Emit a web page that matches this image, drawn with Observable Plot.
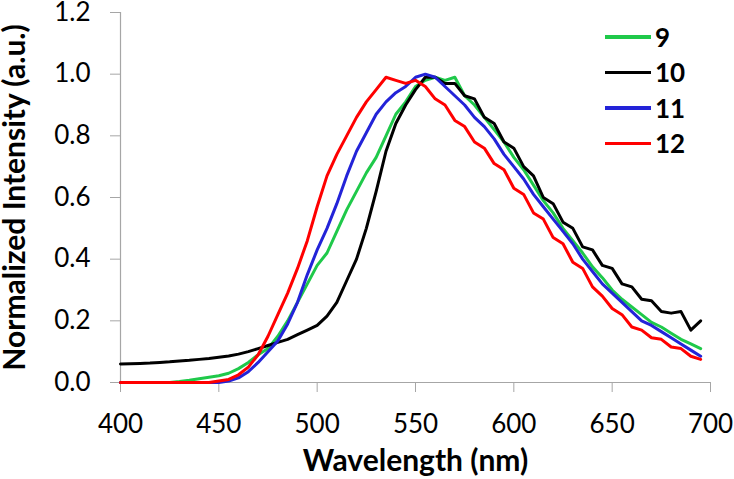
<!DOCTYPE html>
<html>
<head>
<meta charset="utf-8">
<script src="https://cdn.jsdelivr.net/npm/d3@7"></script>
<script src="https://cdn.jsdelivr.net/npm/@observablehq/plot@0.6"></script>
<style>
  html, body { margin: 0; padding: 0; background: #fff; }
  #wrap { position: relative; width: 734px; height: 479px; font-family: Lato, "Open Sans", sans-serif; }
  #wrap svg { font-family: Lato, "Open Sans", sans-serif; overflow: visible; }
  #wrap svg g[aria-label="y-axis label"] text,
  #wrap svg g[aria-label="x-axis label"] text { font-weight: 700; font-size: 30px; }
  #legend { position: absolute; left: 605px; top: 19px; font-weight: 700; font-size: 26px; color: #000; }
  #legend .row { display: flex; align-items: center; height: 35.5px; }
  #legend .sw { width: 46px; height: 3.5px; margin-right: 4px; }
</style>
</head>
<body>
<div id="wrap"><div id="legend"></div></div>
<script>
// Wavelength grid (nm)
const wavelengths = d3.range(400, 700, 5);

// Series names and colors
const seriesNames = ["9", "10", "11", "12"];
const seriesColors = ["#1fc94a", "#000000", "#2323d8", "#ff0000"];

// Normalized intensities, one value per wavelength
const s9 = [0,0,0,0,0,0,0.003,0.007,0.012,0.017,0.022,0.03,0.045,0.065,0.09,0.11,0.15,0.20,0.26,0.32,
  0.38,0.42,0.49,0.56,0.62,0.68,0.73,0.80,0.87,0.91,0.96,0.98,0.99,0.98,0.99,0.93,0.90,0.86,0.82,0.78,
  0.73,0.69,0.64,0.59,0.55,0.50,0.46,0.42,0.375,0.34,0.30,0.27,0.245,0.22,0.195,0.18,0.16,0.14,0.125,0.11];
const s10 = [0.06,0.061,0.062,0.063,0.065,0.067,0.07,0.072,0.075,0.078,0.082,0.086,0.092,0.10,0.11,0.12,0.13,0.14,0.155,0.17,
  0.185,0.215,0.26,0.33,0.40,0.50,0.62,0.75,0.84,0.90,0.95,0.99,0.99,0.97,0.97,0.93,0.92,0.86,0.84,0.78,
  0.76,0.70,0.67,0.60,0.58,0.52,0.50,0.44,0.43,0.38,0.37,0.32,0.31,0.27,0.265,0.23,0.225,0.23,0.17,0.20];
const s11 = [0,0,0,0,0,0,0,0,0,0,0,0.005,0.015,0.035,0.065,0.10,0.135,0.19,0.26,0.35,
  0.43,0.50,0.58,0.67,0.75,0.81,0.87,0.91,0.94,0.96,0.99,1.0,0.99,0.96,0.93,0.90,0.86,0.83,0.79,0.74,
  0.70,0.66,0.61,0.57,0.53,0.49,0.45,0.40,0.36,0.32,0.29,0.26,0.23,0.20,0.185,0.165,0.145,0.125,0.105,0.085];
const s12 = [0,0,0,0,0,0,0,0,0,0,0.005,0.01,0.025,0.05,0.09,0.15,0.22,0.29,0.37,0.46,
  0.57,0.67,0.74,0.80,0.86,0.91,0.95,0.99,0.98,0.97,0.98,0.96,0.92,0.90,0.85,0.83,0.78,0.76,0.71,0.69,
  0.63,0.61,0.55,0.53,0.47,0.45,0.39,0.37,0.31,0.28,0.24,0.22,0.18,0.17,0.145,0.14,0.115,0.11,0.085,0.075];

// Axis ticks
const xTicks = [400, 450, 500, 550, 600, 650, 700];
const yTicks = [0, 0.2, 0.4, 0.6, 0.8, 1.0, 1.2];

const seriesValues = [s9, s10, s11, s12];
const rows = [];
seriesNames.forEach((name, i) => {
  seriesValues[i].forEach((v, j) => rows.push({series: name, wl: wavelengths[j], val: v}));
});

const axisColor = "#a6a6a6";

const chart = Plot.plot({
  width: 734,
  height: 479,
  marginLeft: 120,
  marginRight: 24,
  marginTop: 12,
  marginBottom: 97,
  style: {fontSize: "26px", fontFamily: "Lato, 'Open Sans', sans-serif", color: "#000", background: "#fff", overflow: "visible"},
  x: {domain: [400, 700]},
  y: {domain: [0, 1.2]},
  color: {domain: seriesNames, range: seriesColors},
  marks: [
    Plot.ruleX([400], {stroke: axisColor, strokeWidth: 1.2}),
    Plot.ruleY([0], {stroke: axisColor, strokeWidth: 1.2}),
    Plot.axisY({ticks: yTicks, tickFormat: d3.format(".1f"), tickSize: 10, tickPadding: 20,
      stroke: axisColor, label: "Normalized Intensity (a.u.)", labelArrow: "none", labelAnchor: "center", labelOffset: 117}),
    Plot.axisX({ticks: xTicks, tickFormat: d => String(d), tickSize: 10, tickPadding: 22,
      stroke: axisColor, label: "Wavelength (nm)", labelArrow: "none", labelAnchor: "center", labelOffset: 88}),
    Plot.line(rows, {x: "wl", y: "val", z: "series", stroke: "series", strokeWidth: 3, curve: "linear"})
  ]
});
chart.querySelectorAll('g[aria-label="y-axis tick label"] text, g[aria-label="x-axis tick label"] text').forEach(t => t.setAttribute("fill", "#000"));
chart.querySelectorAll('g[aria-label="y-axis label"] text, g[aria-label="x-axis label"] text').forEach(t => {
  t.textContent = t.textContent.replace(/[\u2190-\u2193]/g, "").trim();
});
document.getElementById("wrap").prepend(chart);

const legend = d3.select("#legend");
seriesNames.forEach((name, i) => {
  const row = legend.append("div").attr("class", "row");
  row.append("div").attr("class", "sw").style("background", seriesColors[i]);
  row.append("span").text(name);
});
</script>
</body>
</html>
